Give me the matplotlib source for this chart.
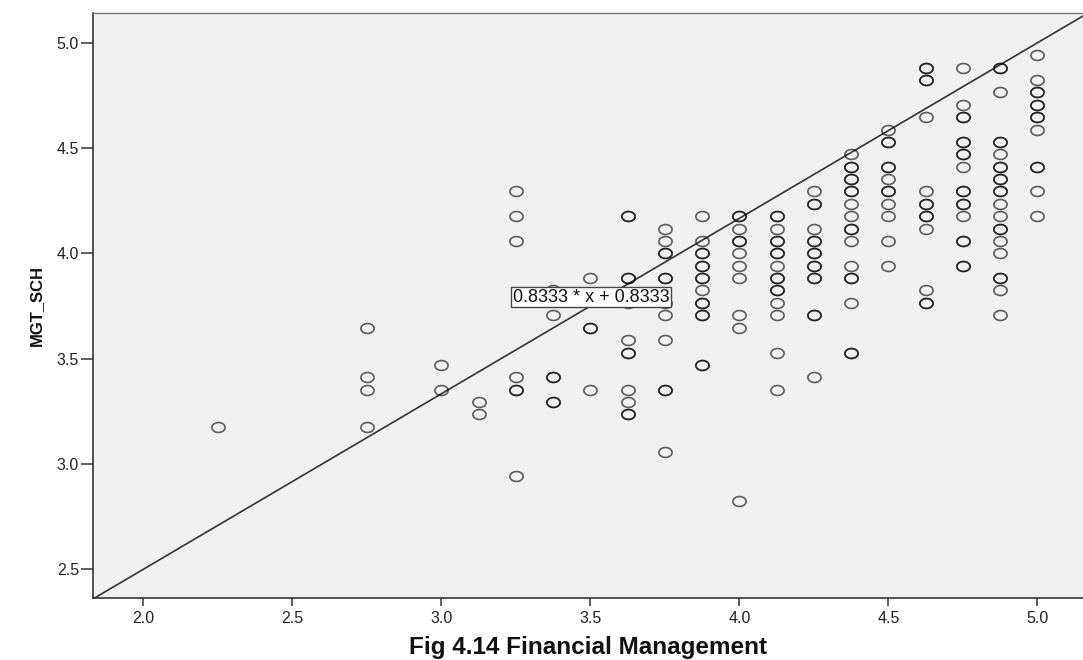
import matplotlib
matplotlib.use("Agg")
import matplotlib.pyplot as plt
import numpy as np
from matplotlib.path import Path
from matplotlib.ticker import FormatStrFormatter

# Financial Management score (x) and MGT_SCH score (y), one entry per respondent
fin_mgmt = (
    [2.25]
    + [2.75] * 4
    + [3.0] * 2
    + [3.125] * 2
    + [3.25] * 7
    + [3.375] * 6
    + [3.5] * 4
    + [3.625] * 12
    + [3.75] * 12
    + [3.875] * 15
    + [4.0] * 11
    + [4.125] * 16
    + [4.25] * 15
    + [4.375] * 18
    + [4.5] * 12
    + [4.625] * 14
    + [4.75] * 18
    + [4.875] * 22
    + [5.0] * 13
)
mgt_sch = [
    3.176,
    3.647, 3.412, 3.353, 3.176,
    3.471, 3.353,
    3.294, 3.235,
    4.294, 4.176, 4.059, 3.412, 3.353, 3.353, 2.941,
    3.824, 3.706, 3.412, 3.412, 3.294, 3.294,
    3.882, 3.647, 3.647, 3.353,
    4.176, 4.176, 3.882, 3.882, 3.765, 3.588, 3.529, 3.529, 3.353, 3.294, 3.235, 3.235,
    4.118, 4.059, 4.0, 4.0, 3.882, 3.882, 3.765, 3.706, 3.588, 3.353, 3.353, 3.059,
    4.176, 4.059, 4.0, 4.0, 3.941, 3.941, 3.882, 3.882, 3.824, 3.765, 3.765, 3.706, 3.706,
    3.471, 3.471,
    4.176, 4.176, 4.118, 4.059, 4.059, 4.0, 3.941, 3.882, 3.706, 3.647, 2.824,
    4.176, 4.176, 4.118, 4.059, 4.059, 4.0, 4.0, 3.941, 3.882, 3.882, 3.824, 3.824, 3.765,
    3.706, 3.529, 3.353,
    4.294, 4.235, 4.235, 4.118, 4.059, 4.059, 4.0, 4.0, 3.941, 3.941, 3.882, 3.882, 3.706,
    3.706, 3.412,
    4.471, 4.412, 4.412, 4.353, 4.353, 4.294, 4.294, 4.235, 4.176, 4.118, 4.118, 4.059,
    3.941, 3.882, 3.882, 3.765, 3.529, 3.529,
    4.588, 4.529, 4.529, 4.412, 4.412, 4.353, 4.294, 4.294, 4.235, 4.176, 4.059, 3.941,
    4.882, 4.882, 4.824, 4.824, 4.647, 4.294, 4.235, 4.235, 4.176, 4.176, 4.118, 3.824,
    3.765, 3.765,
    4.882, 4.706, 4.647, 4.647, 4.529, 4.529, 4.471, 4.471, 4.412, 4.294, 4.294, 4.235,
    4.235, 4.176, 4.059, 4.059, 3.941, 3.941,
    4.882, 4.882, 4.765, 4.529, 4.529, 4.471, 4.412, 4.412, 4.353, 4.353, 4.294, 4.294,
    4.235, 4.176, 4.118, 4.118, 4.059, 4.0, 3.882, 3.882, 3.824, 3.706,
    4.941, 4.824, 4.765, 4.765, 4.706, 4.706, 4.647, 4.647, 4.588, 4.412, 4.412, 4.294, 4.176,
]

# reference line y = 0.8333 * x + 0.8333
slope = 0.8333
intercept = 0.8333
fit_label = "0.8333 * x + 0.8333"

x_ticks = [2.0, 2.5, 3.0, 3.5, 4.0, 4.5, 5.0]
y_ticks = [2.5, 3.0, 3.5, 4.0, 4.5, 5.0]

plt.rcParams["font.family"] = ["Liberation Sans", "DejaVu Sans"]

fig = plt.figure(figsize=(10.83, 6.6), dpi=100)
ax = fig.add_axes([93 / 1083, 61.7 / 660, 990 / 1083, 585 / 660])
ax.set_facecolor("#f0f0f0")

xmin, xmax = 1.831, 5.153
ymin, ymax = 2.362, 5.14

# SPSS style open rings, a bit wider than tall
t = np.linspace(0, 2 * np.pi, 60)
ring = Path(np.column_stack([np.cos(t), 0.75 * np.sin(t)]))

ax.plot(fin_mgmt, mgt_sch, linestyle="none", marker=ring, markersize=9.5,
        markerfacecolor="none", markeredgecolor=(0, 0, 0, 0.62),
        markeredgewidth=1.2, zorder=3)

xs = np.array([xmin, xmax])
ax.plot(xs, slope * xs + intercept, color="#333333", linewidth=1.2, zorder=2)

ax.text(3.502, 3.792, fit_label, ha="center", va="center", fontsize=13,
        color="#111111", zorder=5,
        bbox=dict(boxstyle="square,pad=0.1", facecolor="white",
                  edgecolor="#444444", linewidth=1.0))

ax.set_xlim(xmin, xmax)
ax.set_ylim(ymin, ymax)
ax.set_xticks(x_ticks)
ax.set_yticks(y_ticks)
ax.xaxis.set_major_formatter(FormatStrFormatter("%.1f"))
ax.yaxis.set_major_formatter(FormatStrFormatter("%.1f"))
ax.tick_params(axis="x", length=5.5, width=1.1, pad=3.5, labelsize=11.5,
               colors="#333333", labelcolor="#222222")
ax.tick_params(axis="y", length=8.5, width=1.1, pad=1.5, labelsize=11.5,
               colors="#333333", labelcolor="#222222")

for side in ["left", "bottom"]:
    ax.spines[side].set_color("#333333")
    ax.spines[side].set_linewidth(1.2)
ax.spines["top"].set_color("#777777")
ax.spines["top"].set_linewidth(1.0)
ax.spines["right"].set_visible(False)

ax.set_xlabel("Fig 4.14 Financial Management", fontsize=17.5, fontweight="bold",
              color="#111111")
ax.xaxis.set_label_coords(0.5, -0.064)
ax.set_ylabel("MGT_SCH", fontsize=12, fontweight="bold", color="#111111")
ax.yaxis.set_label_coords(-0.0495, 0.5)

fig.savefig("out.png", dpi=100)
